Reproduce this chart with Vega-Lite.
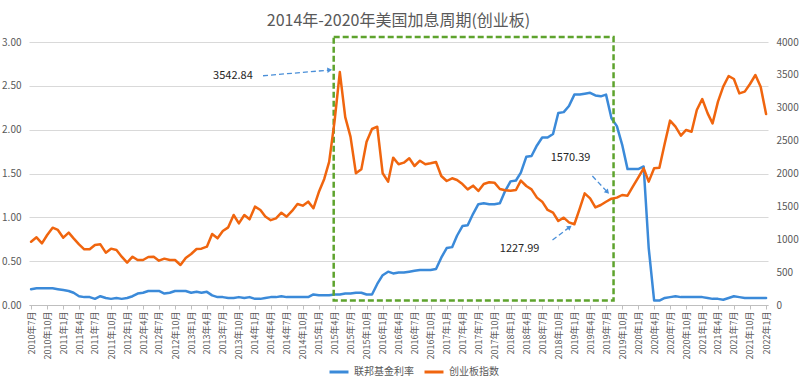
{
  "$schema": "https://vega.github.io/schema/vega-lite/v6.json",
  "width": 739,
  "height": 263,
  "autosize": "none",
  "padding": {"left": 29, "top": 42, "right": 32, "bottom": 76},
  "background": "#ffffff",
  "title": {"text": "2014年-2020年美国加息周期(创业板)", "fontSize": 16, "font": "Noto Sans CJK SC", "fontWeight": "normal", "color": "#595959", "anchor": "middle", "offset": 7},
  "datasets": {
    "main": [
      {"month": "2010-07-01", "rate": 0.18, "cyb": 963},
      {"month": "2010-08-01", "rate": 0.19, "cyb": 1029},
      {"month": "2010-09-01", "rate": 0.19, "cyb": 938},
      {"month": "2010-10-01", "rate": 0.19, "cyb": 1065},
      {"month": "2010-11-01", "rate": 0.19, "cyb": 1176},
      {"month": "2010-12-01", "rate": 0.18, "cyb": 1141},
      {"month": "2011-01-01", "rate": 0.17, "cyb": 1024},
      {"month": "2011-02-01", "rate": 0.16, "cyb": 1100},
      {"month": "2011-03-01", "rate": 0.14, "cyb": 1014},
      {"month": "2011-04-01", "rate": 0.10, "cyb": 923},
      {"month": "2011-05-01", "rate": 0.09, "cyb": 847},
      {"month": "2011-06-01", "rate": 0.09, "cyb": 847},
      {"month": "2011-07-01", "rate": 0.07, "cyb": 913},
      {"month": "2011-08-01", "rate": 0.10, "cyb": 923},
      {"month": "2011-09-01", "rate": 0.08, "cyb": 796},
      {"month": "2011-10-01", "rate": 0.07, "cyb": 857},
      {"month": "2011-11-01", "rate": 0.08, "cyb": 837},
      {"month": "2011-12-01", "rate": 0.07, "cyb": 735},
      {"month": "2012-01-01", "rate": 0.08, "cyb": 644},
      {"month": "2012-02-01", "rate": 0.10, "cyb": 735},
      {"month": "2012-03-01", "rate": 0.13, "cyb": 684},
      {"month": "2012-04-01", "rate": 0.14, "cyb": 684},
      {"month": "2012-05-01", "rate": 0.16, "cyb": 730},
      {"month": "2012-06-01", "rate": 0.16, "cyb": 735},
      {"month": "2012-07-01", "rate": 0.16, "cyb": 674},
      {"month": "2012-08-01", "rate": 0.13, "cyb": 705},
      {"month": "2012-09-01", "rate": 0.14, "cyb": 684},
      {"month": "2012-10-01", "rate": 0.16, "cyb": 684},
      {"month": "2012-11-01", "rate": 0.16, "cyb": 608},
      {"month": "2012-12-01", "rate": 0.16, "cyb": 715},
      {"month": "2013-01-01", "rate": 0.14, "cyb": 776},
      {"month": "2013-02-01", "rate": 0.15, "cyb": 852},
      {"month": "2013-03-01", "rate": 0.14, "cyb": 857},
      {"month": "2013-04-01", "rate": 0.15, "cyb": 887},
      {"month": "2013-05-01", "rate": 0.11, "cyb": 1080},
      {"month": "2013-06-01", "rate": 0.09, "cyb": 1014},
      {"month": "2013-07-01", "rate": 0.09, "cyb": 1126},
      {"month": "2013-08-01", "rate": 0.08, "cyb": 1181},
      {"month": "2013-09-01", "rate": 0.08, "cyb": 1369},
      {"month": "2013-10-01", "rate": 0.09, "cyb": 1242},
      {"month": "2013-11-01", "rate": 0.08, "cyb": 1369},
      {"month": "2013-12-01", "rate": 0.09, "cyb": 1303},
      {"month": "2014-01-01", "rate": 0.07, "cyb": 1496},
      {"month": "2014-02-01", "rate": 0.07, "cyb": 1445},
      {"month": "2014-03-01", "rate": 0.08, "cyb": 1345},
      {"month": "2014-04-01", "rate": 0.09, "cyb": 1290},
      {"month": "2014-05-01", "rate": 0.09, "cyb": 1318},
      {"month": "2014-06-01", "rate": 0.10, "cyb": 1404},
      {"month": "2014-07-01", "rate": 0.09, "cyb": 1344},
      {"month": "2014-08-01", "rate": 0.09, "cyb": 1430},
      {"month": "2014-09-01", "rate": 0.09, "cyb": 1536},
      {"month": "2014-10-01", "rate": 0.09, "cyb": 1511},
      {"month": "2014-11-01", "rate": 0.09, "cyb": 1572},
      {"month": "2014-12-01", "rate": 0.12, "cyb": 1471},
      {"month": "2015-01-01", "rate": 0.11, "cyb": 1718},
      {"month": "2015-02-01", "rate": 0.11, "cyb": 1917},
      {"month": "2015-03-01", "rate": 0.11, "cyb": 2176},
      {"month": "2015-04-01", "rate": 0.12, "cyb": 2797},
      {"month": "2015-05-01", "rate": 0.12, "cyb": 3542.84},
      {"month": "2015-06-01", "rate": 0.13, "cyb": 2858},
      {"month": "2015-07-01", "rate": 0.13, "cyb": 2560},
      {"month": "2015-08-01", "rate": 0.14, "cyb": 2003},
      {"month": "2015-09-01", "rate": 0.14, "cyb": 2063},
      {"month": "2015-10-01", "rate": 0.12, "cyb": 2484},
      {"month": "2015-11-01", "rate": 0.12, "cyb": 2677},
      {"month": "2015-12-01", "rate": 0.24, "cyb": 2712},
      {"month": "2016-01-01", "rate": 0.34, "cyb": 2003},
      {"month": "2016-02-01", "rate": 0.38, "cyb": 1876},
      {"month": "2016-03-01", "rate": 0.36, "cyb": 2241},
      {"month": "2016-04-01", "rate": 0.37, "cyb": 2140},
      {"month": "2016-05-01", "rate": 0.37, "cyb": 2165},
      {"month": "2016-06-01", "rate": 0.38, "cyb": 2231},
      {"month": "2016-07-01", "rate": 0.39, "cyb": 2114},
      {"month": "2016-08-01", "rate": 0.40, "cyb": 2195},
      {"month": "2016-09-01", "rate": 0.40, "cyb": 2140},
      {"month": "2016-10-01", "rate": 0.40, "cyb": 2155},
      {"month": "2016-11-01", "rate": 0.41, "cyb": 2175},
      {"month": "2016-12-01", "rate": 0.54, "cyb": 1962},
      {"month": "2017-01-01", "rate": 0.65, "cyb": 1886},
      {"month": "2017-02-01", "rate": 0.66, "cyb": 1927},
      {"month": "2017-03-01", "rate": 0.79, "cyb": 1901},
      {"month": "2017-04-01", "rate": 0.90, "cyb": 1840},
      {"month": "2017-05-01", "rate": 0.91, "cyb": 1759},
      {"month": "2017-06-01", "rate": 1.04, "cyb": 1815},
      {"month": "2017-07-01", "rate": 1.15, "cyb": 1734},
      {"month": "2017-08-01", "rate": 1.16, "cyb": 1840},
      {"month": "2017-09-01", "rate": 1.15, "cyb": 1866},
      {"month": "2017-10-01", "rate": 1.15, "cyb": 1861},
      {"month": "2017-11-01", "rate": 1.16, "cyb": 1764},
      {"month": "2017-12-01", "rate": 1.30, "cyb": 1745},
      {"month": "2018-01-01", "rate": 1.41, "cyb": 1739},
      {"month": "2018-02-01", "rate": 1.42, "cyb": 1749},
      {"month": "2018-03-01", "rate": 1.51, "cyb": 1891},
      {"month": "2018-04-01", "rate": 1.69, "cyb": 1810},
      {"month": "2018-05-01", "rate": 1.70, "cyb": 1759},
      {"month": "2018-06-01", "rate": 1.82, "cyb": 1633},
      {"month": "2018-07-01", "rate": 1.91, "cyb": 1572},
      {"month": "2018-08-01", "rate": 1.91, "cyb": 1445},
      {"month": "2018-09-01", "rate": 1.95, "cyb": 1404},
      {"month": "2018-10-01", "rate": 2.19, "cyb": 1278},
      {"month": "2018-11-01", "rate": 2.20, "cyb": 1328},
      {"month": "2018-12-01", "rate": 2.27, "cyb": 1257},
      {"month": "2019-01-01", "rate": 2.40, "cyb": 1227.99},
      {"month": "2019-02-01", "rate": 2.40, "cyb": 1470},
      {"month": "2019-03-01", "rate": 2.41, "cyb": 1698},
      {"month": "2019-04-01", "rate": 2.42, "cyb": 1622},
      {"month": "2019-05-01", "rate": 2.39, "cyb": 1485},
      {"month": "2019-06-01", "rate": 2.38, "cyb": 1521},
      {"month": "2019-07-01", "rate": 2.40, "cyb": 1570.39},
      {"month": "2019-08-01", "rate": 2.13, "cyb": 1617},
      {"month": "2019-09-01", "rate": 2.04, "cyb": 1633},
      {"month": "2019-10-01", "rate": 1.83, "cyb": 1673},
      {"month": "2019-11-01", "rate": 1.55, "cyb": 1663},
      {"month": "2019-12-01", "rate": 1.55, "cyb": 1800},
      {"month": "2020-01-01", "rate": 1.55, "cyb": 1937},
      {"month": "2020-02-01", "rate": 1.58, "cyb": 2079},
      {"month": "2020-03-01", "rate": 0.65, "cyb": 1876},
      {"month": "2020-04-01", "rate": 0.05, "cyb": 2079},
      {"month": "2020-05-01", "rate": 0.05, "cyb": 2089},
      {"month": "2020-06-01", "rate": 0.08, "cyb": 2459},
      {"month": "2020-07-01", "rate": 0.09, "cyb": 2804},
      {"month": "2020-08-01", "rate": 0.10, "cyb": 2712},
      {"month": "2020-09-01", "rate": 0.09, "cyb": 2576},
      {"month": "2020-10-01", "rate": 0.09, "cyb": 2662},
      {"month": "2020-11-01", "rate": 0.09, "cyb": 2636},
      {"month": "2020-12-01", "rate": 0.09, "cyb": 2966},
      {"month": "2021-01-01", "rate": 0.09, "cyb": 3133},
      {"month": "2021-02-01", "rate": 0.08, "cyb": 2915},
      {"month": "2021-03-01", "rate": 0.07, "cyb": 2763},
      {"month": "2021-04-01", "rate": 0.07, "cyb": 3093},
      {"month": "2021-05-01", "rate": 0.06, "cyb": 3321},
      {"month": "2021-06-01", "rate": 0.08, "cyb": 3483},
      {"month": "2021-07-01", "rate": 0.10, "cyb": 3437},
      {"month": "2021-08-01", "rate": 0.09, "cyb": 3219},
      {"month": "2021-09-01", "rate": 0.08, "cyb": 3245},
      {"month": "2021-10-01", "rate": 0.08, "cyb": 3361},
      {"month": "2021-11-01", "rate": 0.08, "cyb": 3498},
      {"month": "2021-12-01", "rate": 0.08, "cyb": 3321},
      {"month": "2022-01-01", "rate": 0.08, "cyb": 2905}
    ],
    "box": [
      {"start": "2015-03-27", "end": "2019-08-13", "top": 3.056, "bottom": 0.051}
    ],
    "arrows": [
      {"id": 1, "x1": "2014-02-16", "y1": 2.615, "x2": "2015-03-04", "y2": 2.68},
      {"id": 2, "x1": "2019-04-14", "y1": 1.471, "x2": "2019-07-09", "y2": 1.288},
      {"id": 3, "x1": "2018-08-29", "y1": 0.741, "x2": "2018-12-05", "y2": 0.889}
    ],
    "notes": [
      {"at": "2013-08-28", "level": 2.611, "label": "3542.84"},
      {"at": "2018-12-10", "level": 1.676, "label": "1570.39"},
      {"at": "2018-02-22", "level": 0.639, "label": "1227.99"}
    ]
  },
  "layer": [
    {
      "layer": [
        {
          "data": {"name": "main"},
          "mark": {"type": "line", "strokeWidth": 2.5, "strokeJoin": "round", "strokeCap": "round"},
          "encoding": {
            "x": {"field": "month", "type": "temporal", "scale": {"type": "utc", "domain": [{"year": 2010, "month": 6, "date": 19, "utc": true}, {"year": 2022, "month": 1, "date": 12, "utc": true}]},
              "axis": {"title": null, "grid": false, "tickCount": {"interval": "month", "step": 3}, "labelExpr": "utcFormat(datum.value, '%Y年%-m月')", "labelAngle": -90, "labelFontSize": 9, "labelColor": "#595959", "labelPadding": 2, "labelOverlap": false, "labelFlush": false, "tickSize": 4, "tickColor": "#bfbfbf", "domainColor": "#bfbfbf", "labelFont": "Noto Sans CJK SC"}},
            "y": {"field": "rate", "type": "quantitative", "scale": {"domain": [0, 3], "nice": false},
              "axis": {"title": null, "values": [0, 0.5, 1, 1.5, 2, 2.5, 3], "format": ".2f", "grid": true, "gridColor": "#d9d9d9", "domain": false, "ticks": false, "labelPadding": 8, "labelFontSize": 10, "labelColor": "#595959", "labelFont": "Noto Sans CJK SC"}},
            "color": {"datum": "联邦基金利率", "type": "nominal", "scale": {"domain": ["联邦基金利率", "创业板指数"], "range": ["#3b8ad9", "#f0650e"]},
              "legend": {"title": null, "orient": "none", "legendX": 299, "legendY": 319, "direction": "horizontal", "symbolType": "stroke", "symbolStrokeWidth": 3, "symbolSize": 360, "labelFontSize": 10, "labelColor": "#595959", "labelFont": "Noto Sans CJK SC", "columnPadding": 4}}
          }
        },
        {
          "data": {"name": "box"},
          "mark": {"type": "rect", "fillOpacity": 0, "stroke": "#5ea32d", "strokeWidth": 2.5, "strokeDash": [6, 3]},
          "encoding": {
            "x": {"field": "start", "type": "temporal", "scale": {"type": "utc", "domain": [{"year": 2010, "month": 6, "date": 19, "utc": true}, {"year": 2022, "month": 1, "date": 12, "utc": true}]}},
            "x2": {"field": "end"},
            "y": {"field": "top", "type": "quantitative", "scale": {"domain": [0, 3], "nice": false}},
            "y2": {"field": "bottom"}
          }
        },
        {
          "data": {"name": "arrows"},
          "mark": {"type": "rule", "stroke": "#4a8fd8", "strokeWidth": 1.3, "strokeDash": [5, 3]},
          "encoding": {
            "x": {"field": "x1", "type": "temporal", "scale": {"type": "utc", "domain": [{"year": 2010, "month": 6, "date": 19, "utc": true}, {"year": 2022, "month": 1, "date": 12, "utc": true}]}},
            "x2": {"field": "x2"},
            "y": {"field": "y1", "type": "quantitative", "scale": {"domain": [0, 3], "nice": false}},
            "y2": {"field": "y2"}
          }
        },
        {
          "data": {"name": "arrows"},
          "transform": [{"filter": "datum.id == 1"}],
          "mark": {"type": "point", "shape": "triangle-right", "filled": true, "size": 30, "color": "#4a8fd8", "angle": -5, "opacity": 1},
          "encoding": {
            "x": {"field": "x2", "type": "temporal", "scale": {"type": "utc", "domain": [{"year": 2010, "month": 6, "date": 19, "utc": true}, {"year": 2022, "month": 1, "date": 12, "utc": true}]}},
            "y": {"field": "y2", "type": "quantitative", "scale": {"domain": [0, 3], "nice": false}}
          }
        },
        {
          "data": {"name": "arrows"},
          "transform": [{"filter": "datum.id == 2"}],
          "mark": {"type": "point", "shape": "triangle-right", "filled": true, "size": 30, "color": "#4a8fd8", "angle": 47, "opacity": 1},
          "encoding": {
            "x": {"field": "x2", "type": "temporal", "scale": {"type": "utc", "domain": [{"year": 2010, "month": 6, "date": 19, "utc": true}, {"year": 2022, "month": 1, "date": 12, "utc": true}]}},
            "y": {"field": "y2", "type": "quantitative", "scale": {"domain": [0, 3], "nice": false}}
          }
        },
        {
          "data": {"name": "arrows"},
          "transform": [{"filter": "datum.id == 3"}],
          "mark": {"type": "point", "shape": "triangle-right", "filled": true, "size": 30, "color": "#4a8fd8", "angle": -37, "opacity": 1},
          "encoding": {
            "x": {"field": "x2", "type": "temporal", "scale": {"type": "utc", "domain": [{"year": 2010, "month": 6, "date": 19, "utc": true}, {"year": 2022, "month": 1, "date": 12, "utc": true}]}},
            "y": {"field": "y2", "type": "quantitative", "scale": {"domain": [0, 3], "nice": false}}
          }
        },
        {
          "data": {"name": "notes"},
          "mark": {"type": "text", "fontSize": 11, "font": "Noto Sans CJK SC", "color": "#262626", "align": "center", "baseline": "middle"},
          "encoding": {
            "x": {"field": "at", "type": "temporal", "scale": {"type": "utc", "domain": [{"year": 2010, "month": 6, "date": 19, "utc": true}, {"year": 2022, "month": 1, "date": 12, "utc": true}]}},
            "y": {"field": "level", "type": "quantitative", "scale": {"domain": [0, 3], "nice": false}},
            "text": {"field": "label"}
          }
        }
      ]
    },
    {
      "data": {"name": "main"},
      "mark": {"type": "line", "strokeWidth": 2.5, "strokeJoin": "round", "strokeCap": "round"},
      "encoding": {
        "x": {"field": "month", "type": "temporal", "scale": {"type": "utc", "domain": [{"year": 2010, "month": 6, "date": 19, "utc": true}, {"year": 2022, "month": 1, "date": 12, "utc": true}]}},
        "y": {"field": "cyb", "type": "quantitative", "scale": {"domain": [0, 4000], "nice": false},
          "axis": {"orient": "right", "title": null, "values": [0, 500, 1000, 1500, 2000, 2500, 3000, 3500, 4000], "format": "d", "grid": false, "domain": false, "ticks": false, "labelPadding": 8, "labelFontSize": 10, "labelColor": "#595959", "labelFont": "Noto Sans CJK SC"}},
        "color": {"datum": "创业板指数", "type": "nominal"}
      }
    }
  ],
  "resolve": {"scale": {"y": "independent"}},
  "config": {
    "view": {"stroke": null},
    "font": "Noto Sans CJK SC"
  }
}
